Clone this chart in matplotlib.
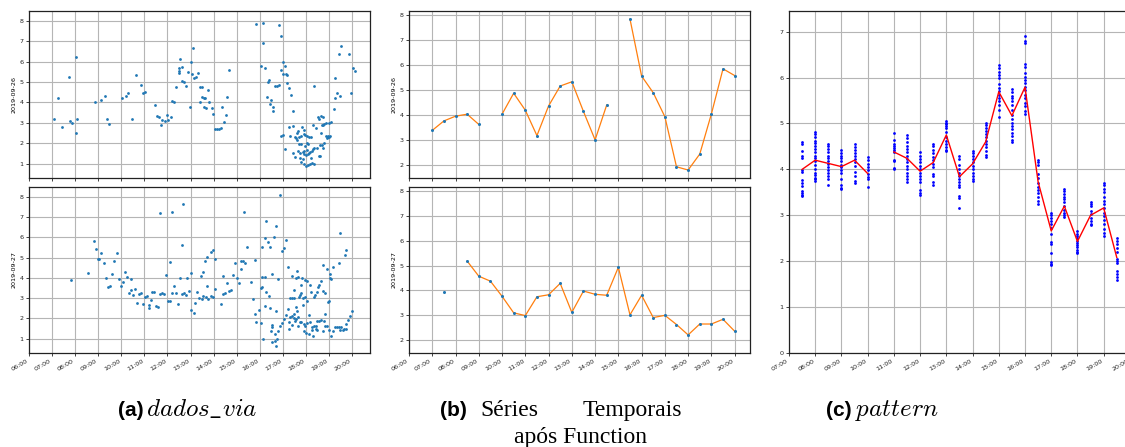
import numpy as np
import matplotlib.pyplot as plt
from matplotlib.ticker import FuncFormatter

plt.rcParams['mathtext.fontset'] = 'cm'

# ---- (a) dados_via : raw readings, hour of day / value ----
a26_t = [7.1, 7.27, 7.43, 7.75, 7.76, 7.86, 8.02, 8.02, 8.1, 8.86, 9.12, 9.29, 9.37, 9.45,
         10.05, 10.2, 10.3, 10.47, 10.63, 10.87, 10.96, 11.04, 11.45, 11.53, 11.62, 11.71,
         11.78, 11.88, 11.97, 12.04, 12.14, 12.2, 12.29, 12.39, 12.48, 12.48, 12.52, 12.56,
         12.62, 12.65, 12.73, 12.8, 12.88, 12.97, 13.04, 13.05, 13.12, 13.15, 13.24, 13.32,
         13.4, 13.41, 13.48, 13.5, 13.57, 13.57, 13.64, 13.66, 13.74, 13.82, 13.92, 13.99,
         14.08, 14.17, 14.25, 14.34, 14.35, 14.44, 14.53, 14.6, 14.69, 15.82, 16.06, 16.16,
         16.16, 16.25, 16.33, 16.34, 16.42, 16.43, 16.51, 16.59, 16.59, 16.68, 16.75, 16.84,
         16.84, 16.94, 16.94, 16.94, 17.0, 17.01, 17.03, 17.1, 17.13, 17.1, 17.18, 17.2,
         17.25, 17.29, 17.34, 17.33, 17.43, 17.43, 17.43, 17.51, 17.52, 17.58, 17.6, 17.63,
         17.65, 17.68, 17.7, 17.7, 17.73, 17.75, 17.77, 17.8, 17.78, 17.82, 17.86, 17.86,
         17.9, 17.9, 17.92, 17.92, 17.94, 17.96, 17.98, 17.99, 18.01, 18.03, 18.04, 18.05,
         18.08, 18.09, 18.1, 18.12, 18.14, 18.16, 18.18, 18.22, 18.23, 18.25, 18.28, 18.3,
         18.33, 18.34, 18.36, 18.37, 18.44, 18.5, 18.51, 18.55, 18.57, 18.6, 18.63, 18.66,
         18.67, 18.69, 18.72, 18.74, 18.74, 18.76, 18.78, 18.8, 18.86, 18.87, 18.9, 18.94,
         18.98, 19.0, 19.02, 19.05, 19.11, 19.2, 19.27, 19.27, 19.36, 19.44, 19.46, 19.53,
         19.86, 19.95, 20.03, 20.12]
a26_v = [3.17, 4.2, 2.8, 5.24, 3.1, 2.97, 6.22, 2.49, 3.17, 4.04, 4.12, 4.3, 3.17, 2.93,
         4.2, 4.33, 4.44, 3.17, 5.33, 4.84, 4.45, 4.51, 3.88, 3.31, 3.27, 2.9,
         3.13, 3.07, 3.36, 3.13, 3.3, 4.05, 4.04, 4.74, 5.7, 5.56, 5.43, 6.13,
         5.75, 5.06, 4.98, 4.8, 5.48, 3.76, 5.97, 5.4, 6.67, 5.21, 5.25, 5.45,
         4.73, 4.0, 4.77, 4.28, 3.76, 4.22, 4.22, 3.71, 4.62, 4.0, 3.71, 3.41,
         2.69, 2.68, 2.71, 2.74, 3.77, 3.02, 3.36, 4.27, 5.6, 7.85, 5.77, 7.87,
         6.92, 5.68, 4.25, 5.02, 5.11, 3.91, 4.12, 3.79, 3.6, 4.8, 4.8, 4.83,
         7.79, 7.26, 5.6, 2.35, 5.99, 2.38, 5.4, 5.8, 5.38, 1.69, 5.34, 4.94,
         4.72, 2.8, 4.34, 2.36, 3.57, 2.85, 1.53, 1.33, 2.31, 2.25, 2.51, 2.15,
         1.6, 2.58, 1.97, 2.31, 1.51, 1.25, 2.33, 1.94, 1.08, 2.8, 1.56, 1.21,
         2.64, 1.62, 2.47, 1.0, 1.49, 1.87, 2.41, 1.41, 0.87, 2.02, 1.66, 2.36,
         0.92, 1.46, 1.95, 2.28, 1.53, 1.0, 1.58, 2.31, 1.25, 1.62, 1.05, 1.72,
         2.9, 0.97, 4.81, 1.77, 2.72, 1.76, 3.27, 1.38, 3.17, 1.92, 1.38, 3.31,
         2.51, 2.9, 1.92, 3.3, 2.9, 1.77, 2.03, 2.95, 2.97, 2.35, 2.27, 2.35,
         2.31, 2.28, 2.97, 2.35, 3.03, 3.67, 5.2, 4.23, 4.48, 6.39, 4.3, 6.77,
         6.39, 4.44, 5.68, 5.52]

a27_t = [7.82, 8.57, 8.83, 8.91, 8.98, 9.05, 9.13, 9.25, 9.34, 9.42, 9.51, 9.59, 9.68, 9.82,
         9.91, 10.0, 10.09, 10.17, 10.25, 10.33, 10.42, 10.43, 10.51, 10.6, 10.69, 10.77,
         10.85, 10.94, 11.02, 11.11, 11.19, 11.2, 11.28, 11.35, 11.43, 11.52, 11.59, 11.68,
         11.69, 11.78, 11.86, 11.94, 12.03, 12.1, 12.12, 12.19, 12.2, 12.28, 12.37, 12.45,
         12.53, 12.62, 12.63, 12.69, 12.71, 12.79, 12.86, 12.95, 13.03, 13.04, 13.13, 13.21,
         13.3, 13.38, 13.46, 13.48, 13.54, 13.56, 13.63, 13.66, 13.71, 13.72, 13.74, 13.88,
         13.9, 13.96, 13.98, 14.06, 14.08, 14.31, 14.4, 14.43, 14.5, 14.59, 14.67, 14.76,
         14.85, 14.94, 15.03, 15.12, 15.19, 15.19, 15.28, 15.34, 15.36, 15.46, 15.62, 15.71,
         15.79, 15.79, 15.86, 15.95, 16.04, 16.07, 16.1, 16.12, 16.12, 16.13, 16.21, 16.21,
         16.22, 16.29, 16.29, 16.38, 16.39, 16.46, 16.46, 16.47, 16.54, 16.55, 16.55, 16.55,
         16.63, 16.65, 16.65, 16.72, 16.72, 16.72, 16.75, 16.8, 16.81, 16.89, 16.9, 16.98,
         16.98, 17.07, 17.07, 17.15, 17.15, 17.24, 17.24, 17.25, 17.27, 17.31, 17.33, 17.38,
         17.39, 17.4, 17.42, 17.47, 17.48, 17.5, 17.5, 17.55, 17.56, 17.57, 17.58, 17.62,
         17.62, 17.64, 17.64, 17.65, 17.71, 17.73, 17.76, 17.8, 17.8, 17.8, 17.82, 17.86,
         17.88, 17.9, 17.92, 17.96, 17.97, 17.98, 18.0, 18.05, 18.05, 18.06, 18.12, 18.15,
         18.16, 18.17, 18.24, 18.25, 18.27, 18.32, 18.34, 18.35, 18.39, 18.42, 18.43, 18.47,
         18.49, 18.5, 18.53, 18.56, 18.59, 18.65, 18.67, 18.74, 18.74, 18.76, 18.77, 18.82,
         18.84, 18.85, 18.91, 18.93, 18.94, 18.99, 19.0, 19.03, 19.06, 19.09, 19.1, 19.16,
         19.18, 19.25, 19.33, 19.42, 19.43, 19.48, 19.5, 19.52, 19.59, 19.67, 19.68, 19.72,
         19.76, 19.76, 19.84, 19.91, 20.0]
a27_v = [3.9, 4.25, 5.82, 5.43, 4.93, 4.92, 5.21, 4.75, 4.0, 3.54, 3.6, 4.21, 4.85, 5.2,
         3.93, 3.6, 3.79, 4.3, 4.03, 3.25, 3.38, 3.92, 3.16, 3.46, 2.74, 3.2,
         3.25, 2.72, 3.05, 3.11, 2.66, 2.49, 2.92, 3.31, 3.3, 2.61, 2.57, 7.2,
         3.2, 3.23, 3.21, 4.15, 2.85, 2.85, 4.77, 7.26, 3.25, 3.6, 3.23, 2.72,
         4.0, 5.64, 3.21, 7.64, 3.23, 3.16, 4.0, 3.33, 4.26, 2.39, 2.26, 2.74,
         3.31, 2.98, 4.08, 2.97, 4.28, 3.11, 4.84, 3.06, 3.62, 5.05, 2.96, 3.08,
         5.25, 3.05, 5.36, 4.92, 3.44, 2.72, 4.08, 3.18, 3.26, 3.75, 3.34, 3.39,
         4.16, 4.75, 3.97, 3.75, 4.41, 4.84, 4.84, 7.26, 4.74, 5.52, 3.8, 2.95,
         4.89, 2.2, 1.84, 2.43, 3.51, 1.75, 3.54, 5.54, 4.05, 1.0, 5.97, 4.02,
         2.62, 6.79, 3.31, 5.77, 3.1, 5.51, 2.51, 1.38, 4.18, 1.66, 1.56, 0.82,
         6.0, 1.23, 0.87, 6.56, 2.34, 0.66, 1.0, 3.93, 1.36, 8.08, 1.64, 5.3,
         1.77, 5.48, 1.97, 5.87, 2.18, 4.54, 2.44, 1.48, 1.82, 3.02, 2.07, 3.02,
         4.08, 2.1, 1.66, 2.98, 3.38, 2.03, 2.2, 1.85, 3.98, 2.56, 1.97, 4.36,
         2.36, 4.02, 2.08, 1.64, 3.05, 1.82, 3.13, 3.65, 3.26, 1.82, 4.0, 3.02,
         2.67, 1.74, 1.38, 3.9, 3.05, 1.62, 1.3, 3.84, 1.79, 2.85, 1.21, 2.16,
         1.8, 3.64, 3.31, 1.56, 1.43, 1.13, 3.05, 1.62, 3.15, 1.49, 1.64, 1.44,
         1.85, 3.28, 3.56, 3.66, 1.85, 3.85, 1.9, 4.62, 3.33, 1.36, 1.87, 3.25,
         2.2, 1.61, 4.41, 1.64, 2.82, 2.85, 1.44, 4.21, 4.0, 3.93, 1.13, 4.51,
         1.36, 1.59, 1.57, 1.57, 4.72, 1.43, 6.21, 1.57, 1.41, 1.49, 5.11, 1.48,
         5.38, 1.7, 1.9, 2.11, 2.34]

# ---- (b) half-hour series after Function ----
b_slots = ['07:00', '07:30', '08:00', '08:30', '09:00', '09:30', '10:00', '10:30', '11:00',
           '11:30', '12:00', '12:30', '13:00', '13:30', '14:00', '14:30', '15:00', '15:30',
           '16:00', '16:30', '17:00', '17:30', '18:00', '18:30', '19:00', '19:30', '20:00']
b26 = [3.38, 3.76, 3.95, 4.03, 3.62, np.nan, 4.03, 4.87, 4.19, 3.17, 4.36, 5.16, 5.33, 4.14,
       3.0, 4.4, np.nan, 7.85, 5.56, 4.89, 3.93, 1.92, 1.79, 2.43, 4.04, 5.85, 5.58]
b27 = [np.nan, 3.92, np.nan, 5.18, 4.57, 4.37, 3.76, 3.09, 2.98, 3.74, 3.82, 4.28, 3.11, 3.97,
       3.84, 3.8, 4.93, 3.01, 3.8, 2.9, 2.99, 2.62, 2.2, 2.64, 2.64, 2.83, 2.35]

# ---- (c) pattern ----
c_slots = ['07:30', '08:00', '08:30', '09:00', '09:30', '10:00', '10:30', '11:00', '11:30',
           '12:00', '12:30', '13:00', '13:30', '14:00', '14:30', '15:00', '15:30', '16:00',
           '16:30', '17:00', '17:30', '18:00', '18:30', '19:00', '19:30']
c_mean = [4.0, 4.2, 4.13, 4.06, 4.2, 3.91, np.nan, 4.38, 4.24, 3.96, 4.15, 4.75, 3.84, 4.12,
          4.6, 5.69, 5.17, 5.79, 3.73, 2.66, 3.2, 2.43, 3.0, 3.16, 2.08]
c_points = [
    [4.59, 4.55, 4.39, 4.29, 4.24, 3.99, 3.94, 3.77, 3.71, 3.63, 3.53, 3.48, 3.45, 3.42],
    [4.81, 4.76, 4.7, 4.62, 4.57, 4.5, 4.45, 4.38, 4.3, 4.24, 4.18, 4.1, 4.0, 3.92, 3.87,
     3.82, 3.78, 3.74],
    [4.55, 4.5, 4.44, 4.38, 4.3, 4.24, 4.18, 4.12, 4.05, 3.98, 3.92, 3.85, 3.8, 3.66],
    [4.42, 4.36, 4.3, 4.24, 4.18, 4.1, 4.05, 3.98, 3.92, 3.78, 3.65, 3.6, 3.57],
    [4.55, 4.49, 4.43, 4.36, 4.3, 4.22, 4.15, 4.08, 3.95, 3.85, 3.75, 3.71],
    [4.27, 4.2, 4.12, 4.05, 3.98, 3.9, 3.84, 3.8, 3.62],
    [],
    [4.8, 4.63, 4.56, 4.5, 4.46, 4.42, 4.38, 4.2, 4.18, 4.03, 4.0],
    [4.74, 4.68, 4.6, 4.52, 4.45, 4.38, 4.3, 4.22, 4.15, 4.08, 4.0, 3.92, 3.85, 3.78, 3.73],
    [4.38, 4.3, 4.22, 4.15, 4.08, 4.0, 3.92, 3.85, 3.78, 3.72, 3.55, 3.48, 3.45],
    [4.55, 4.5, 4.42, 4.35, 4.28, 4.2, 4.12, 4.05, 3.9, 3.85, 3.72, 3.67],
    [5.06, 5.02, 4.98, 4.95, 4.9, 4.82, 4.7, 4.62, 4.55, 4.48, 4.42, 4.39],
    [4.3, 4.22, 4.1, 4.0, 3.92, 3.85, 3.78, 3.72, 3.66, 3.62, 3.42, 3.38, 3.15],
    [4.4, 4.36, 4.3, 4.22, 4.15, 4.08, 4.0, 3.92, 3.85, 3.78, 3.74],
    [5.02, 4.96, 4.9, 4.84, 4.78, 4.7, 4.62, 4.55, 4.48, 4.4, 4.32, 4.28],
    [6.27, 6.2, 6.12, 6.06, 5.98, 5.85, 5.78, 5.7, 5.62, 5.55, 5.48, 5.4, 5.3, 5.15],
    [5.74, 5.68, 5.6, 5.55, 5.48, 5.4, 5.3, 5.18, 5.1, 5.02, 4.95, 4.88, 4.8, 4.72, 4.65,
     4.6],
    [6.9, 6.8, 6.75, 6.3, 6.22, 6.1, 6.02, 5.95, 5.88, 5.8, 5.72, 5.62, 5.55, 5.45, 5.38,
     5.28, 5.2],
    [4.2, 4.15, 4.1, 3.9, 3.82, 3.7, 3.62, 3.55, 3.48, 3.4, 3.32, 3.24],
    [3.06, 3.0, 2.95, 2.88, 2.8, 2.72, 2.6, 2.42, 2.38, 2.18, 1.98, 1.94, 1.91],
    [3.58, 3.52, 3.46, 3.4, 3.35, 3.28, 3.2, 3.12, 3.06, 3.0, 2.96],
    [2.66, 2.6, 2.55, 2.5, 2.45, 2.4, 2.35, 2.3, 2.25, 2.2, 2.18],
    [3.29, 3.25, 3.2, 3.1, 3.02, 2.95, 2.88, 2.82, 2.78],
    [3.7, 3.65, 3.58, 3.5, 3.4, 3.32, 3.24, 3.15, 3.05, 2.98, 2.9, 2.8, 2.7, 2.62, 2.54],
    [2.51, 2.45, 2.38, 2.28, 2.2, 2.05, 2.0, 1.96, 1.78, 1.72, 1.65, 1.58],
]

ab_hours = ['06:00', '07:00', '08:00', '09:00', '10:00', '11:00', '12:00', '13:00', '14:00',
            '15:00', '16:00', '17:00', '18:00', '19:00', '20:00']
c_hours = ab_hours[1:]


def hm(s):
    h, m = s.split(':')
    return int(h) + int(m) / 60


W, H = 1125, 447
fig = plt.figure(figsize=(W / 100, H / 100), dpi=100)


def box(x0, y0, x1, y1):
    return fig.add_axes([x0 / W, 1 - y1 / H, (x1 - x0) / W, (y1 - y0) / H])


def style(ax, hours, xlim, ylim, show_labels=True, ylabel=None):
    ax.set_xlim(*xlim)
    ax.set_ylim(*ylim)
    ax.set_xticks([hm(h) for h in hours])
    ax.xaxis.set_major_formatter(FuncFormatter(lambda v, p: f'{int(round(v)):02d}:00'))
    ax.grid(True, color='#b5b5b5', lw=0.8)
    ax.set_axisbelow(True)
    ax.tick_params(labelsize=4.6, length=2.5, width=0.6, pad=1.5, colors='#222222')
    if show_labels:
        for lab in ax.get_xticklabels():
            lab.set_rotation(30)
            lab.set_ha('right')
    else:
        ax.tick_params(labelbottom=False)
    if ylabel:
        ax.set_ylabel(ylabel, fontsize=4.6, labelpad=2)
    for s in ax.spines.values():
        s.set_linewidth(0.9)
        s.set_color('#222222')


# (a)
ylim_a = (0.29, 8.48)
ax = box(29, 11, 370, 178)
ax.scatter(a26_t, a26_v, s=4, color='C0', lw=0)
style(ax, ab_hours, (6, 20.78), ylim_a, False, '2019-09-26')
ax = box(29, 187, 370, 353)
ax.scatter(a27_t, a27_v, s=4, color='C0', lw=0)
style(ax, ab_hours, (6, 20.78), ylim_a, True, '2019-09-27')

# (b)
bx = [hm(s) for s in b_slots]
ylim_b = (1.47, 8.17)
for i, (vals, lab) in enumerate([(b26, '2019-09-26'), (b27, '2019-09-27')]):
    ax = box(409, 11, 750, 178) if i == 0 else box(409, 187, 750, 353)
    ax.plot(bx, vals, color='C1', lw=0.9)
    ax.plot(bx, vals, 'o', color='C0', ms=2.2, mew=0)
    style(ax, ab_hours, (6, 20.66), ylim_b, i == 1, lab)

# (c)
cx = [hm(s) for s in c_slots]
ax = box(789, 11, 1143, 353)
for x, pts in zip(cx, c_points):
    ax.plot([x] * len(pts), pts, 'o', color='blue', ms=2.0, mew=0)
ax.plot(cx, c_mean, color='red', lw=1.0)
style(ax, c_hours, (7, 20.5), (0, 7.45), True)

# captions
y1 = 1 - 416 / H
fig.text(118 / W, y1, '(a)', fontsize=15, fontweight='bold', family='Liberation Sans')
fig.text(146 / W, y1, r'$dados\_via$', fontsize=18)
fig.text(440 / W, y1, '(b)', fontsize=15, fontweight='bold', family='Liberation Sans')
fig.text(480 / W, y1, 'Séries', fontsize=17, family='Liberation Serif')
fig.text(682 / W, y1, 'Temporais', fontsize=17, family='Liberation Serif', ha='right')
fig.text(580 / W, 1 - 443 / H, 'após Function', fontsize=17, family='Liberation Serif',
         ha='center')
fig.text(826 / W, y1, '(c)', fontsize=15, fontweight='bold', family='Liberation Sans')
fig.text(855 / W, y1, r'$pattern$', fontsize=18)

fig.savefig('out.png', dpi=100)
